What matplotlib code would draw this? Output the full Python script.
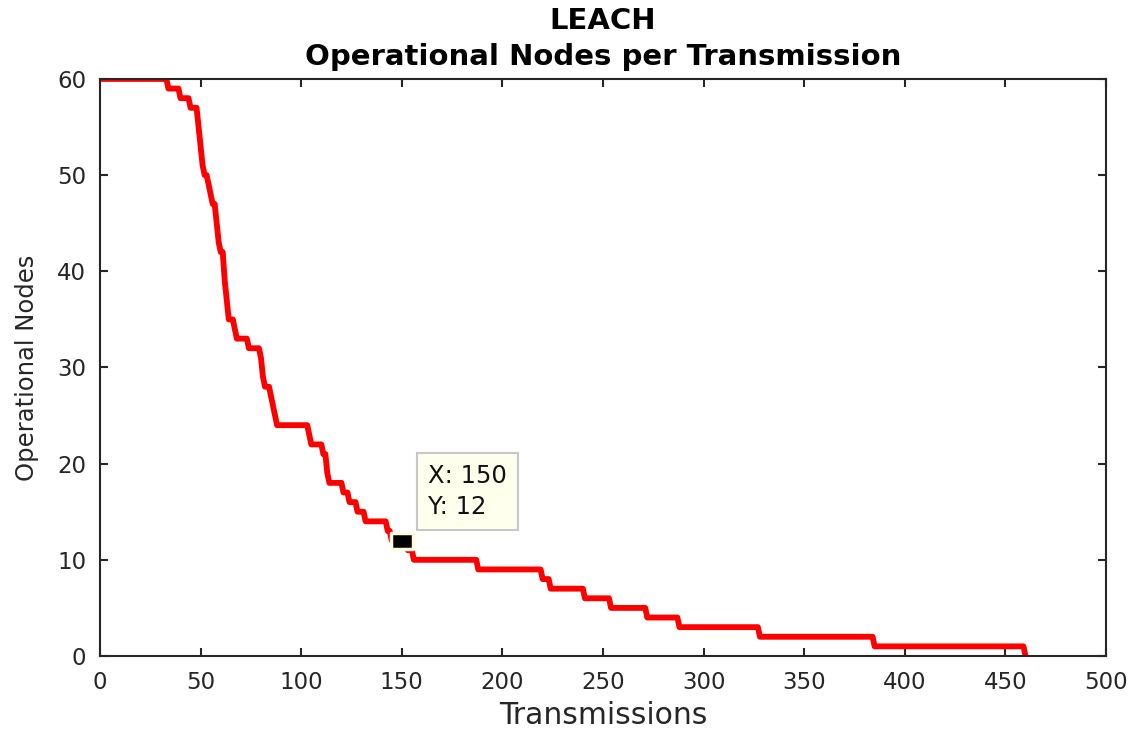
import numpy as np
import matplotlib.pyplot as plt

# LEACH: first transmission at which the number of operational nodes changes
change_rounds = [0, 34, 40, 45, 49, 50, 51, 52, 54, 55, 56, 58, 59, 60, 62, 63, 64,
                 67, 68, 74, 80, 81, 82, 85, 86, 87, 88, 104, 105, 111, 113, 114,
                 121, 124, 128, 132, 143, 145, 153, 156, 188, 220, 224, 241, 254,
                 272, 288, 328, 385, 460]
alive_nodes = [60, 59, 58, 57, 55, 53, 51, 50, 49, 48, 47, 45, 43, 42, 39, 37, 35,
               34, 33, 32, 31, 29, 28, 27, 26, 25, 24, 23, 22, 21, 19, 18,
               17, 16, 15, 14, 13, 12, 11, 10, 9, 8, 7, 6, 5,
               4, 3, 2, 1, 0]

cursor_x = 150
cursor_y = 12

# per-transmission series (value holds until the next change)
xs = []
ys = []
for i in range(len(change_rounds)):
    xs.append(change_rounds[i])
    ys.append(alive_nodes[i])
    if i + 1 < len(change_rounds) and change_rounds[i + 1] - 1 > change_rounds[i]:
        xs.append(change_rounds[i + 1] - 1)
        ys.append(alive_nodes[i])

plt.rcParams['font.family'] = ['DejaVu Sans']

fig = plt.figure(figsize=(11.39, 7.31), dpi=100)
ax = fig.add_axes([0.0878, 0.1026, 0.8832, 0.7894])

ax.plot(xs, ys, color='red', linewidth=4.2, solid_joinstyle='round')

# data cursor
rect = [(-1.35, -1), (1.35, -1), (1.35, 1), (-1.35, 1), (-1.35, -1)]
ax.plot([cursor_x], [cursor_y], marker=rect, markersize=16, color='black',
        markeredgecolor='#fffbe0', markeredgewidth=2.5, linestyle='none')
ax.text(163, 17.1, 'X: 150\nY: 12', fontsize=17.5, linespacing=1.4,
        va='center', ha='left', color='#111111',
        bbox=dict(boxstyle='square,pad=0.45', facecolor='#ffffee',
                  edgecolor='#c8c8c8', linewidth=1.5))

ax.set_xlim(0, 500)
ax.set_ylim(0, 60)
ax.set_xticks(np.arange(0, 501, 50))
ax.set_yticks(np.arange(0, 61, 10))

for s in ax.spines.values():
    s.set_color('#262626')
    s.set_linewidth(1.5)
ax.tick_params(direction='in', top=True, right=True, length=5.5, width=1.5,
               colors='#262626', labelsize=16.5, pad=10)
ax.tick_params(axis='x', pad=11)

ax.set_title('LEACH\nOperational Nodes per Transmission', fontsize=21,
             fontweight='bold', pad=10, linespacing=1.35)
ax.set_xlabel('Transmissions', fontsize=21.5, labelpad=5, color='#262626')
ax.set_ylabel('Operational Nodes', fontsize=17.5, labelpad=13, color='#262626')

fig.savefig('out.png', dpi=100)
